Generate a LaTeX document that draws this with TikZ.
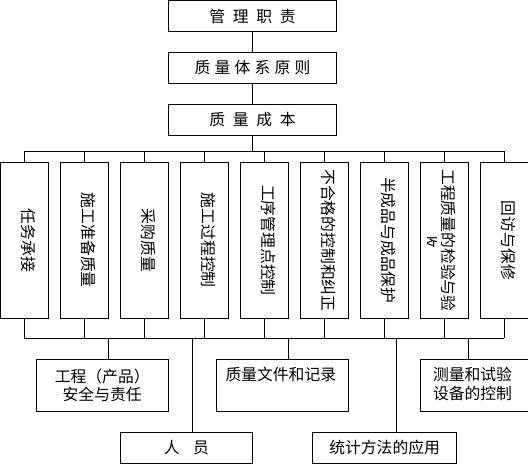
\documentclass[tikz,border=0pt]{standalone}
\usepackage{fontspec}
\setmainfont{Noto Sans CJK SC}
\begin{document}
\begin{tikzpicture}[x=1pt,y=-1pt,
  box/.style={draw, line width=0.8pt, inner sep=0pt, outer sep=0pt, font=\fontsize{15.8}{18.6}\selectfont, align=center},
  lab/.style={inner sep=0pt, font=\fontsize{15.8}{18.6}\selectfont, align=center},
  vt/.style={lab, rotate=-90},
  topbox/.style={box, minimum width=168.4pt, minimum height=31pt},
  vbox/.style={box, minimum width=48pt, minimum height=156pt},
  conn/.style={line width=0.8pt}]
\clip (0,0) rectangle (528,464);
\fill[white] (0,0) rectangle (528,464);
% top chain
\node[topbox, minimum height=31.4pt] (t1) at (252.5,16) {管\hspace{7.7pt}理\hspace{7.7pt}职\hspace{7.7pt}责};
\node[topbox] (t2) at (252.5,67.8) {质\hspace{4.2pt}量\hspace{4.2pt}体\hspace{4.2pt}系\hspace{4.2pt}原\hspace{4.2pt}则};
\node[topbox] (t3) at (252.5,119.8) {质\hspace{7.7pt}量\hspace{7.7pt}成\hspace{7.7pt}本};
\draw[conn] (t1) -- (t2);
\draw[conn] (t2) -- (t3);
\coordinate (tb) at (252.5,151);
\coordinate (bb) at (252.5,338.3);
\draw[conn] (t3) -- (tb);
% vertical boxes
\foreach \i in {1,...,9} {
  \node[vbox] (v\i) at ({24.3+60*(\i-1)},240.3) {};
  \draw[conn] (v\i) -- (v\i |- tb);
  \draw[conn] (v\i) -- (v\i |- bb);
}
\draw[conn] (v1 |- tb) -- (v9 |- tb);
\draw[conn] (v1 |- bb) -- (v9 |- bb);
\foreach \i/\t in {1/任务承接,2/施工准备质量,3/采购质量,4/施工过程控制,5/工序管理点控制,6/不合格的控制和纠正,7/半成品与成品保护,8/工程质量的检验与验,9/回访与保修} {
  \node[vt] (vt\i) at ([xshift=4.5pt]v\i.center) {\t};
}
\begin{scope}
  \clip (427,237) rectangle (436,246);
  \node[vt] (vt8b) at (430.2,240) {收};
\end{scope}
% bottom boxes
\node[box, minimum width=132.3pt, minimum height=51.7pt] (b1) at (102.2,385.2) {工程（产品）\\安全与责任};
\node[box, minimum width=132pt, minimum height=31pt] (b2) at (186.3,447.8) {人\hspace{13.5pt}员};
\node[box, minimum width=132pt, minimum height=51.7pt] (b3) at (282.3,385.2) {};
\node[lab] (b3t) at (280.8,374.2) {质量文件和记录};
\node[box, minimum width=144.2pt, minimum height=31pt] (b4) at (384.6,447.8) {统计方法的应用};
\node[box, minimum width=140pt, minimum height=51.7pt] (b5) at (490.5,385.2) {};
\node[lab] (b5t) at (472.5,384) {测量和试验\\设备的控制};
\coordinate (c1) at (108.3,338.3);
\coordinate (c2) at (192.3,338.3);
\coordinate (c3) at (288.3,338.3);
\coordinate (c4) at (396.4,338.3);
\coordinate (c5) at (468.3,338.3);
\draw[conn] (c1) -- (c1 |- b1.north);
\draw[conn] (c2) -- (c2 |- b2.north);
\draw[conn] (c3) -- (c3 |- b3.north);
\draw[conn] (c4) -- (c4 |- b4.north);
\draw[conn] (c5) -- (c5 |- b5.north);
\end{tikzpicture}
\end{document}
